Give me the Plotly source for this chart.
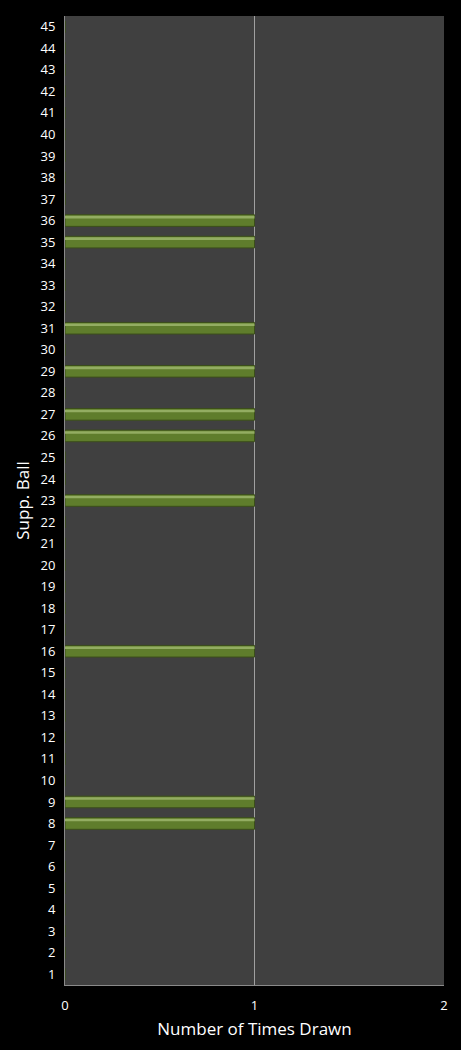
import plotly.graph_objects as go

balls = [str(i) for i in range(1, 46)]
drawn_balls = [8, 9, 16, 23, 26, 27, 29, 31, 35, 36]
times_drawn = [1 if i in drawn_balls else 0 for i in range(1, 46)]
x_ticks = [0, 1, 2]

fig = go.Figure()
fig.add_trace(go.Bar(
    y=balls, x=times_drawn, orientation="h",
    width=0.54,
    marker=dict(color="#5f7d2c", line=dict(color="#3b4e1a", width=1)),
    hoverinfo="x+y",
))
# highlight strip on top of bars
fig.add_trace(go.Bar(
    y=balls, x=times_drawn, orientation="h",
    width=0.12, offset=0.1,
    marker=dict(color="#93ad62", line=dict(width=0)),
    hoverinfo="skip",
))

fig.update_layout(
    width=461, height=1050,
    paper_bgcolor="#000000",
    plot_bgcolor="#404040",
    barmode="overlay",
    showlegend=False,
    margin=dict(l=65, r=17, t=16, b=65),
    font=dict(family="Open Sans, DejaVu Sans, sans-serif", color="#ffffff", size=13),
    xaxis=dict(
        range=[0, 2], tickvals=x_ticks, ticktext=[str(v) for v in x_ticks],
        showgrid=True, gridcolor="#a0a0a0", gridwidth=1,
        zeroline=False, showline=True, linecolor="#8a8a8a", linewidth=1, mirror=False,
        ticks="outside", ticklen=8, tickcolor="rgba(0,0,0,0)",
        title=dict(text="Number of Times Drawn", font=dict(size=17, color="#ffffff"), standoff=10),
        tickfont=dict(size=13, color="#ffffff"),
    ),
    yaxis=dict(
        type="category", categoryorder="array", categoryarray=balls,
        range=[-0.5, 44.5],
        showgrid=False, zeroline=False, showline=True, linecolor="#8a8a8a", linewidth=1,
        ticks="outside", ticklen=6, tickcolor="rgba(0,0,0,0)",
        title=dict(text="Supp. Ball", font=dict(size=17, color="#ffffff"), standoff=6),
        tickfont=dict(size=13, color="#ffffff"),
    ),
)

fig.write_html("out.html", config={"displayModeBar": False},
               post_script="document.body.style.margin='0';document.body.style.background='#000';")
